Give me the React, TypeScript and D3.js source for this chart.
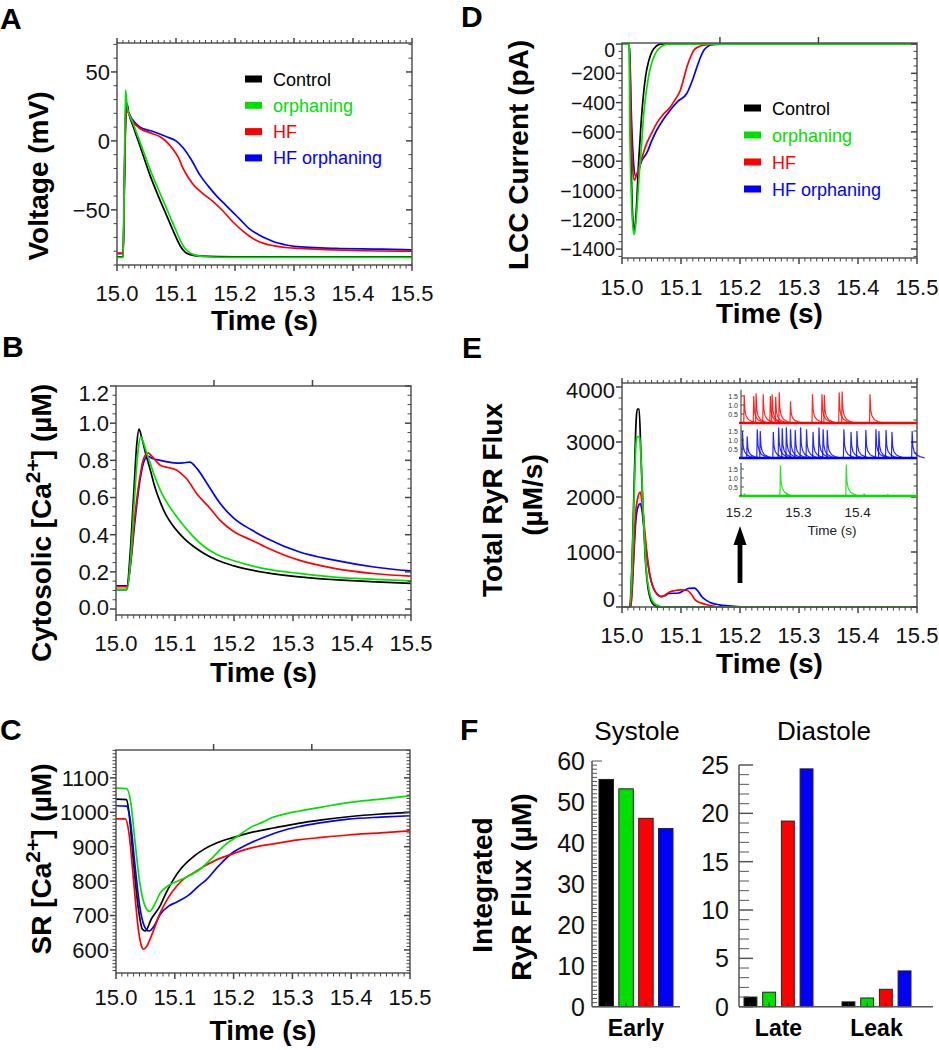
import * as React from "react";
import * as d3 from "d3";

type Pt = [number, number];

const FONT = '"Liberation Sans", Arial, Helvetica, sans-serif';
const BLACK = "#000000";
const GREEN = "#00e000";
const RED = "#ff0000";
const BLUE = "#0000ff";

const seriesNames = ["Control", "orphaning", "HF", "HF orphaning"];
const seriesColors = [BLACK, GREEN, RED, BLUE];
const timeTicks = [15.0, 15.1, 15.2, 15.3, 15.4, 15.5];
const oddTopTicks = [15.166, 15.333];

// A: voltage (mV)
const voltageControl: Pt[] = [[15.0,-84],[15.0105,-84],[15.0125,-30],[15.015,22],[15.017,27],[15.02,20],[15.027,11],[15.04,-5],[15.056,-25],[15.07,-40],[15.084,-54],[15.096,-66],[15.107,-76],[15.115,-80.5],[15.124,-82.5],[15.14,-83.5],[15.2,-84],[15.5,-84]];
const voltageOrphaning: Pt[] = [[15.0,-84.5],[15.0105,-84.5],[15.0125,-20],[15.0145,37],[15.0175,24],[15.027,13],[15.04,-2],[15.06,-25],[15.075,-40],[15.09,-55],[15.1,-65],[15.112,-76],[15.12,-80],[15.13,-82.5],[15.15,-84],[15.2,-84.5],[15.5,-84.5]];
const voltageHF: Pt[] = [[15.0,-81.5],[15.0105,-81.5],[15.0125,-30],[15.015,18],[15.017,22],[15.025,15],[15.039,9],[15.055,6],[15.073,3],[15.085,-1],[15.095,-6],[15.104,-12],[15.112,-20],[15.12,-26],[15.13,-32],[15.145,-38],[15.163,-44],[15.18,-51],[15.197,-59],[15.215,-66],[15.231,-71],[15.25,-74.5],[15.265,-76],[15.29,-77.5],[15.31,-78],[15.4,-79.5],[15.5,-80]];
const voltageHFOrphaning: Pt[] = [[15.0,-81.5],[15.0105,-81.5],[15.0125,-30],[15.015,18],[15.017,22],[15.025,16],[15.039,10],[15.06,7],[15.084,3],[15.1,0],[15.112,-5],[15.125,-13],[15.141,-25],[15.155,-33],[15.169,-40],[15.183,-46],[15.197,-52],[15.211,-58],[15.225,-64],[15.24,-68],[15.254,-71],[15.268,-73.5],[15.282,-75],[15.3,-76.5],[15.37,-78],[15.45,-78.5],[15.5,-79]];

// B: cytosolic calcium (uM)
const cytoControl: Pt[] = [[15.0,0.105],[15.018,0.105],[15.024,0.3],[15.03,0.62],[15.035,0.88],[15.039,0.968],[15.043,0.93],[15.05,0.84],[15.058,0.75],[15.066,0.655],[15.075,0.575],[15.085,0.505],[15.095,0.455],[15.105,0.415],[15.117,0.375],[15.131,0.338],[15.15,0.298],[15.17,0.265],[15.2,0.232],[15.256,0.195],[15.31,0.173],[15.37,0.158],[15.44,0.146],[15.5,0.138]];
const cytoOrphaning: Pt[] = [[15.0,0.105],[15.019,0.105],[15.025,0.28],[15.031,0.58],[15.037,0.84],[15.042,0.926],[15.046,0.9],[15.052,0.84],[15.058,0.785],[15.066,0.71],[15.075,0.64],[15.089,0.56],[15.103,0.496],[15.117,0.44],[15.131,0.39],[15.15,0.335],[15.17,0.295],[15.2,0.26],[15.256,0.215],[15.31,0.192],[15.37,0.172],[15.44,0.16],[15.5,0.152]];
const cytoHF: Pt[] = [[15.0,0.12],[15.019,0.12],[15.025,0.26],[15.032,0.5],[15.04,0.7],[15.046,0.8],[15.054,0.84],[15.06,0.825],[15.075,0.774],[15.09,0.76],[15.103,0.747],[15.112,0.725],[15.12,0.7],[15.137,0.62],[15.16,0.54],[15.176,0.478],[15.2,0.416],[15.23,0.37],[15.256,0.33],[15.31,0.263],[15.37,0.219],[15.44,0.19],[15.5,0.177]];
const cytoHFOrphaning: Pt[] = [[15.0,0.125],[15.019,0.125],[15.025,0.25],[15.032,0.47],[15.04,0.68],[15.047,0.79],[15.054,0.822],[15.062,0.81],[15.075,0.8],[15.09,0.79],[15.103,0.785],[15.115,0.787],[15.125,0.79],[15.137,0.757],[15.154,0.677],[15.176,0.57],[15.2,0.488],[15.23,0.425],[15.256,0.38],[15.31,0.308],[15.37,0.263],[15.44,0.225],[15.5,0.205]];

// C: SR calcium (uM)
const srControl: Pt[] = [[15.0,1038],[15.018,1037],[15.022,1000],[15.03,850],[15.038,720],[15.045,660],[15.05,655],[15.06,690],[15.075,728],[15.085,765],[15.097,803],[15.11,835],[15.131,870],[15.15,893],[15.17,910],[15.2,927],[15.227,940],[15.27,955],[15.31,968],[15.35,978],[15.395,987],[15.45,995],[15.5,1000]];
const srOrphaning: Pt[] = [[15.0,1070],[15.018,1069],[15.025,1030],[15.032,920],[15.04,800],[15.05,725],[15.057,712],[15.065,730],[15.075,765],[15.09,788],[15.102,798],[15.12,812],[15.142,833],[15.165,870],[15.186,906],[15.205,928],[15.227,954],[15.25,972],[15.265,984],[15.29,996],[15.31,1003],[15.35,1015],[15.395,1028],[15.45,1038],[15.5,1048]];
const srHF: Pt[] = [[15.0,981],[15.016,981],[15.022,940],[15.03,800],[15.038,660],[15.044,608],[15.047,602],[15.052,610],[15.06,640],[15.075,707],[15.09,755],[15.102,783],[15.115,806],[15.131,823],[15.15,843],[15.17,861],[15.2,880],[15.227,895],[15.27,909],[15.31,920],[15.35,927],[15.395,934],[15.45,940],[15.5,946]];
const srHFOrphaning: Pt[] = [[15.0,1019],[15.018,1018],[15.024,980],[15.032,850],[15.04,730],[15.048,670],[15.056,655],[15.065,670],[15.075,703],[15.09,728],[15.102,738],[15.124,760],[15.14,785],[15.153,803],[15.175,845],[15.197,881],[15.225,908],[15.254,929],[15.28,945],[15.31,958],[15.35,970],[15.395,980],[15.45,986],[15.5,990]];

// D: LCC current (pA)
const lccControl: Pt[] = [[15.0,0],[15.0125,0],[15.0135,-300],[15.016,-900],[15.019,-1230],[15.021,-1270],[15.024,-1150],[15.028,-820],[15.032,-560],[15.036,-360],[15.04,-220],[15.045,-120],[15.051,-50],[15.058,-15],[15.065,0],[15.5,0]];
const lccOrphaning: Pt[] = [[15.0,0],[15.0122,0],[15.013,-500],[15.016,-1050],[15.019,-1270],[15.021,-1300],[15.025,-1150],[15.029,-900],[15.033,-700],[15.037,-470],[15.041,-330],[15.046,-200],[15.052,-110],[15.058,-55],[15.066,-20],[15.076,0],[15.5,0]];
const lccHF: Pt[] = [[15.0,0],[15.0125,0],[15.015,-500],[15.018,-850],[15.021,-930],[15.025,-890],[15.031,-813],[15.042,-677],[15.05,-610],[15.059,-540],[15.07,-480],[15.082,-430],[15.09,-380],[15.099,-314],[15.105,-230],[15.11,-157],[15.116,-90],[15.122,-41],[15.13,-18],[15.139,-7],[15.155,-2],[15.167,0],[15.5,0]];
const lccHFOrphaning: Pt[] = [[15.0,0],[15.0125,0],[15.016,-500],[15.02,-830],[15.023,-900],[15.027,-880],[15.033,-800],[15.042,-744],[15.05,-665],[15.059,-587],[15.07,-515],[15.082,-450],[15.095,-390],[15.11,-336],[15.12,-240],[15.127,-157],[15.133,-90],[15.139,-41],[15.145,-18],[15.15,-7],[15.16,-2],[15.173,0],[15.5,0]];

// E: total RyR flux (uM/s)
const fluxControl: Pt[] = [[15.0,0],[15.013,0],[15.017,800],[15.021,2400],[15.024,3400],[15.026,3600],[15.029,3600],[15.032,2800],[15.036,1700],[15.04,800],[15.044,350],[15.049,120],[15.055,30],[15.062,0],[15.5,0]];
const fluxOrphaning: Pt[] = [[15.0,0],[15.013,0],[15.017,700],[15.021,2200],[15.024,3000],[15.026,3100],[15.03,3080],[15.033,2500],[15.037,1500],[15.041,700],[15.046,300],[15.052,100],[15.06,30],[15.07,0],[15.5,0]];
const fluxHF: Pt[] = [[15.0,0],[15.015,0],[15.019,800],[15.023,1700],[15.026,1950],[15.031,2090],[15.034,1900],[15.038,1450],[15.042,1000],[15.047,600],[15.053,350],[15.06,230],[15.066,190],[15.072,210],[15.08,270],[15.09,300],[15.1,310],[15.11,305],[15.117,240],[15.124,130],[15.132,80],[15.141,50],[15.15,25],[15.16,5],[15.18,0],[15.5,0]];
const fluxHFOrphaning: Pt[] = [[15.0,0],[15.015,0],[15.019,700],[15.023,1500],[15.026,1780],[15.031,1880],[15.034,1750],[15.038,1350],[15.042,950],[15.047,580],[15.053,350],[15.06,230],[15.066,190],[15.072,205],[15.08,245],[15.096,255],[15.105,300],[15.113,340],[15.123,345],[15.13,270],[15.135,190],[15.143,120],[15.152,70],[15.165,40],[15.175,25],[15.2,5],[15.22,0],[15.5,0]];

// E inset: spark events (time, height)
const insetTicks = [15.2, 15.3, 15.4];
const insetYTicks = [0.5, 1.0, 1.5];
const hfSparkTimes = [15.208,15.224,15.228,15.24,15.252,15.255,15.261,15.267,15.286,15.323,15.339,15.343,15.368,15.373,15.42];
const hfSparkHeights = [1.55,1.5,1.65,1.6,1.5,1.6,1.45,1.7,1.2,1.6,1.6,1.55,1.7,1.75,1.6];
const hfOrphSparkTimes = [15.205,15.213,15.23,15.235,15.257,15.266,15.272,15.279,15.286,15.294,15.303,15.313,15.324,15.334,15.341,15.348,15.376,15.388,15.398,15.413,15.43,15.435,15.447,15.457,15.491];
const hfOrphSparkHeights = [1.5,1.2,1.6,1.5,1.45,1.7,1.65,1.7,1.6,1.55,1.7,1.6,1.45,1.7,1.6,1.55,1.6,1.45,1.5,1.55,1.6,1.5,1.55,1.45,1.5];
const orphSparkTimes = [15.208,15.269,15.28,15.38,15.41,15.45];
const orphSparkHeights = [0.1,1.7,0.12,1.75,0.1,0.08];
// shape of one spark trace: [dt (s), fraction of height]
const sparkShape: Pt[] = [[0,0],[0.0008,1],[0.002,0.45],[0.004,0.25],[0.008,0.12],[0.014,0.05],[0.022,0]];

// F: integrated RyR flux (uM)
const systoleCategories = ["Early"];
const diastoleCategories = ["Late", "Leak"];
const systoleEarly = [55.5, 53.2, 46.0, 43.5];
const diastoleLate = [1.0, 1.5, 19.2, 24.6];
const diastoleLeak = [0.5, 0.9, 1.8, 3.7];
const systoleTicks = [0, 10, 20, 30, 40, 50, 60];
const diastoleTicks = [0, 5, 10, 15, 20, 25];

const minus = (s: string) => s.replace("-", "\u2212");

interface PanelProps {
  id: string;
  left: number; right: number; top: number; bottom: number;
  yDomain: [number, number];
  yTicks: number[];
  yMinor: number;
  fmt: (v: number) => string;
  series: Pt[][];
  xLabelBase: number;
  xTitleBase: number;
  denseTop: boolean;
  yLabelSize?: number;
}

function TracePanel(p: PanelProps) {
  const x = d3.scaleLinear().domain([15, 15.5]).range([p.left, p.right]);
  const y = d3.scaleLinear().domain(p.yDomain).range([p.bottom, p.top]);
  const line = d3.line<Pt>().x((d) => x(d[0])).y((d) => y(d[1])).curve(d3.curveMonotoneX);
  const xMinor = d3.range(0, 51).map((i) => 15 + i * 0.01);
  const [d0, d1] = p.yDomain;
  const yMinor = d3.range(Math.ceil(d0 / p.yMinor) * p.yMinor, d1 + 1e-9, p.yMinor);
  const tc = "#444";
  const order = [0, 3, 2, 1];
  const ls = p.yLabelSize || 22;
  return (
    <g>
      <defs>
        <clipPath id={p.id}>
          <rect x={p.left} y={p.top - 1} width={p.right - p.left} height={p.bottom - p.top + 2} />
        </clipPath>
      </defs>
      <g clipPath={`url(#${p.id})`}>
        {order.map((i) => (
          <path key={i} d={line(p.series[i]) || ""} fill="none" stroke={seriesColors[i]} strokeWidth={1.7} />
        ))}
      </g>
      <rect x={p.left} y={p.top} width={p.right - p.left} height={p.bottom - p.top} fill="none" stroke="#555" strokeWidth={1.5} />
      {xMinor.map((t, i) => {
        const major = i % 10 === 0;
        const X = x(t);
        return (
          <g key={"xt" + i} stroke={tc} strokeWidth={major ? 1.5 : 1}>
            <line x1={X} x2={X} y1={p.bottom} y2={p.bottom + (major ? 6 : 3.5)} />
            {p.denseTop && <line x1={X} x2={X} y1={p.top} y2={p.top - (major ? 5 : 3)} />}
          </g>
        );
      })}
      {!p.denseTop &&
        oddTopTicks.map((t) => (
          <line key={"ot" + t} x1={x(t)} x2={x(t)} y1={p.top} y2={p.top - 6} stroke={tc} strokeWidth={1.5} />
        ))}
      {yMinor.map((v, i) => {
        const major = p.yTicks.some((t) => Math.abs(t - v) < 1e-6);
        const Y = y(v);
        return (
          <g key={"ym" + i} stroke={tc} strokeWidth={major ? 1.5 : 1}>
            <line x1={p.left} x2={p.left - (major ? 6 : 3.5)} y1={Y} y2={Y} />
            <line x1={p.right} x2={p.right - (major ? 6 : 3.5)} y1={Y} y2={Y} />
          </g>
        );
      })}
      {p.yTicks.map((v) => {
        const Y = Math.min(Math.max(y(v), p.top + 7), p.bottom - 8);
        return (
          <text key={"yl" + v} x={p.left - 7} y={Y + ls * 0.36} textAnchor="end" fontSize={ls} fill="#111">
            {p.fmt(v)}
          </text>
        );
      })}
      {timeTicks.map((t) => (
        <text key={"xl" + t} x={x(t)} y={p.xLabelBase} textAnchor="middle" fontSize={22} fill="#111">
          {t.toFixed(1)}
        </text>
      ))}
      <text x={(p.left + p.right) / 2} y={p.xTitleBase} textAnchor="middle" fontSize={28} fontWeight="bold">
        Time (s)
      </text>
    </g>
  );
}

function Legend({ x, y0, step }: { x: number; y0: number; step: number }) {
  return (
    <g>
      {seriesNames.map((n, i) => (
        <g key={n}>
          <rect x={x} y={y0 + i * step - 3.5} width={17} height={7} fill={seriesColors[i]} />
          <text x={x + 28} y={y0 + i * step + 6.5} fontSize={18} fill={seriesColors[i]}>
            {n}
          </text>
        </g>
      ))}
    </g>
  );
}

function YTitle({ x, y, children, size = 28 }: { x: number; y: number; children: React.ReactNode; size?: number }) {
  return (
    <text transform={`translate(${x},${y}) rotate(-90)`} textAnchor="middle" fontSize={size} fontWeight="bold">
      {children}
    </text>
  );
}

function Inset() {
  const x = d3.scaleLinear().domain([15.2, 15.5]).range([739, 917]);
  const strips = [
    { color: RED, base: 423, times: hfSparkTimes, heights: hfSparkHeights },
    { color: BLUE, base: 458, times: hfOrphSparkTimes, heights: hfOrphSparkHeights },
    { color: GREEN, base: 496, times: orphSparkTimes, heights: orphSparkHeights },
  ];
  const axisX = 741;
  return (
    <g>
      {strips.map((s, k) => {
        const y = d3.scaleLinear().domain([0, 2]).range([s.base, s.base - 36]);
        const line = d3.line<Pt>().x((d) => x(d[0])).y((d) => y(d[1]));
        return (
          <g key={k}>
            <line x1={x(15.2)} x2={x(15.5)} y1={y(0)} y2={y(0)} stroke={s.color} strokeWidth={2.5} />
            {s.times.map((t, i) => (
              <path
                key={i}
                d={line(sparkShape.map(([dt, f]) => [t + dt, f * s.heights[i]] as Pt)) || ""}
                fill="none"
                stroke={s.color}
                strokeWidth={1.2}
                strokeOpacity={0.85}
              />
            ))}
            <line x1={axisX} x2={axisX} y1={y(0)} y2={y(1.85)} stroke="#333" strokeWidth={1} />
            {insetYTicks.map((v) => (
              <g key={v}>
                <line x1={axisX} x2={axisX + 3} y1={y(v)} y2={y(v)} stroke="#333" strokeWidth={0.8} />
                <text x={axisX - 3} y={y(v) + 2.5} textAnchor="end" fontSize={7} fill="#333">
                  {v.toFixed(1)}
                </text>
              </g>
            ))}
          </g>
        );
      })}
      {insetTicks.map((t) => (
        <text key={t} x={x(t)} y={517} textAnchor="middle" fontSize={13.5} fill="#222">
          {t.toFixed(1)}
        </text>
      ))}
      <text x={(x(15.2) + x(15.5)) / 2 + 4} y={535} textAnchor="middle" fontSize={13.5} fill="#222">
        Time (s)
      </text>
    </g>
  );
}

function Arrow({ xPos }: { xPos: number }) {
  return (
    <g fill="#000">
      <rect x={xPos - 2.4} y={543} width={4.8} height={40} />
      <path d={`M${xPos},526 L${xPos + 6.5},545 L${xPos - 6.5},545 Z`} />
    </g>
  );
}

function BarPanel() {
  const base = 1006.7;
  const ySys = d3.scaleLinear().domain([0, 60]).range([base, 761]);
  const yDia = d3.scaleLinear().domain([0, 25]).range([base, 765]);
  const xSys = d3.scaleBand<string>().domain(systoleCategories).range([599, 673]).padding(0);
  const xDia = d3.scaleBand<string>().domain(diastoleCategories).range([744, 911]).paddingInner(0.296).paddingOuter(0);
  const inSys = d3.scaleBand<number>().domain([0, 1, 2, 3]).range([0, xSys.bandwidth()]).paddingInner(0.27).paddingOuter(0);
  const inDia = d3.scaleBand<number>().domain([0, 1, 2, 3]).range([0, xDia.bandwidth()]).paddingInner(0.31).paddingOuter(0);
  const sysAxis = 592;
  const diaAxis = 739;
  const groups = [
    { cat: "Early", vals: systoleEarly, xs: xSys, inner: inSys, y: ySys },
    { cat: "Late", vals: diastoleLate, xs: xDia, inner: inDia, y: yDia },
    { cat: "Leak", vals: diastoleLeak, xs: xDia, inner: inDia, y: yDia },
  ];
  const tc = "#555";
  return (
    <g>
      {groups.map((g) =>
        g.vals.map((v, i) => {
          const bx = (g.xs(g.cat) || 0) + (g.inner(i) || 0);
          const w = g.inner.bandwidth();
          return (
            <g key={g.cat + i}>
              <rect x={bx} y={g.y(v)} width={w} height={base - g.y(v)} fill={seriesColors[i]} stroke="#222" strokeWidth={1} />
              <line x1={bx + w / 2} x2={bx + w / 2} y1={base} y2={base - 4} stroke="#222" strokeWidth={1} />
            </g>
          );
        })
      )}
      <line x1={sysAxis} x2={sysAxis} y1={ySys(60)} y2={base} stroke={tc} strokeWidth={1.5} />
      <line x1={sysAxis} x2={680} y1={base} y2={base} stroke={tc} strokeWidth={1.5} />
      {d3.range(0, 61).map((v) => (
        <line key={"s" + v} x1={sysAxis} x2={sysAxis + (v === 60 ? 10 : 5)} y1={ySys(v)} y2={ySys(v)} stroke={tc} strokeWidth={1} />
      ))}
      {systoleTicks.map((v) => (
        <text key={"sl" + v} x={585} y={ySys(v) + 9} textAnchor="end" fontSize={25} fill="#111">
          {v}
        </text>
      ))}
      <line x1={diaAxis} x2={diaAxis} y1={yDia(25)} y2={base} stroke={tc} strokeWidth={1.5} />
      <line x1={diaAxis} x2={933} y1={base} y2={base} stroke={tc} strokeWidth={1.5} />
      {d3.range(0, 26).map((v) => (
        <line key={"d" + v} x1={diaAxis} x2={diaAxis + (v % 5 === 0 ? 14 : 10)} y1={yDia(v)} y2={yDia(v)} stroke={tc} strokeWidth={v % 5 === 0 ? 1.5 : 1} />
      ))}
      {diastoleTicks.map((v) => (
        <text key={"dl" + v} x={729} y={yDia(v) + 9} textAnchor="end" fontSize={25} fill="#111">
          {v}
        </text>
      ))}
      {groups.map((g) => (
        <text key={"c" + g.cat} x={(g.xs(g.cat) || 0) + g.xs.bandwidth() / 2} y={1036} textAnchor="middle" fontSize={23} fontWeight="bold">
          {g.cat}
        </text>
      ))}
      <text x={637} y={740} textAnchor="middle" fontSize={26}>Systole</text>
      <text x={824} y={740} textAnchor="middle" fontSize={26}>Diastole</text>
    </g>
  );
}

export default function App() {
  const fmtInt = (v: number) => minus(String(v));
  const fmt1 = (v: number) => minus(v.toFixed(1));
  const xE = d3.scaleLinear().domain([15, 15.5]).range([622, 917]);
  return (
    <svg width={939} height={1050} style={{ position: "absolute", left: 0, top: 0 }} fontFamily={FONT}>
      <rect width={939} height={1050} fill="#fff" />
      <g fontSize={30} fontWeight="bold">
        <text x={0} y={29}>A</text>
        <text x={2} y={357}>B</text>
        <text x={0} y={740}>C</text>
        <text x={461} y={27}>D</text>
        <text x={462} y={358}>E</text>
        <text x={460} y={740}>F</text>
      </g>

      <TracePanel id="clipA" left={117} right={412} top={43} bottom={265} yDomain={[-90, 71]} yTicks={[-50, 0, 50]} yMinor={10}
        fmt={fmtInt} series={[voltageControl, voltageOrphaning, voltageHF, voltageHFOrphaning]} xLabelBase={301} xTitleBase={330} denseTop={true} />
      <YTitle x={48} y={176}>Voltage (mV)</YTitle>
      <Legend x={245} y0={79} step={26.3} />

      <TracePanel id="clipB" left={116} right={411} top={386} bottom={615} yDomain={[-0.032, 1.2]} yTicks={[0, 0.2, 0.4, 0.6, 0.8, 1.0, 1.2]} yMinor={0.05}
        fmt={fmt1} series={[cytoControl, cytoOrphaning, cytoHF, cytoHFOrphaning]} xLabelBase={651} xTitleBase={682} denseTop={false} />
      <YTitle x={51} y={523}>
        Cytosolic [Ca<tspan dy={-11} fontSize={21}>2+</tspan><tspan dy={11}>] (µM)</tspan>
      </YTitle>

      <TracePanel id="clipC" left={116} right={410} top={750} bottom={973} yDomain={[533, 1181]} yTicks={[600, 700, 800, 900, 1000, 1100]} yMinor={10}
        fmt={fmtInt} series={[srControl, srOrphaning, srHF, srHFOrphaning]} xLabelBase={1005} xTitleBase={1040} denseTop={false} />
      <YTitle x={51} y={859}>
        SR [Ca<tspan dy={-11} fontSize={21}>2+</tspan><tspan dy={11}>] (µM)</tspan>
      </YTitle>

      <TracePanel id="clipD" left={622} right={917} top={43} bottom={258} yDomain={[-1461, 7]} yTicks={[-1400, -1200, -1000, -800, -600, -400, -200, 0]} yMinor={50}
        fmt={fmtInt} series={[lccControl, lccOrphaning, lccHF, lccHFOrphaning]} xLabelBase={295} xTitleBase={323} denseTop={false} yLabelSize={19.5} />
      <YTitle x={528} y={155}>LCC Current (pA)</YTitle>
      <Legend x={744} y0={108} step={27} />

      <TracePanel id="clipE" left={622} right={917} top={383} bottom={607} yDomain={[0, 4073]} yTicks={[0, 1000, 2000, 3000, 4000]} yMinor={200}
        fmt={fmtInt} series={[fluxControl, fluxOrphaning, fluxHF, fluxHFOrphaning]} xLabelBase={643} xTitleBase={673} denseTop={true} />
      <YTitle x={502} y={500}>Total RyR Flux</YTitle>
      <YTitle x={542} y={495}>(µM/s)</YTitle>
      <Inset />
      <Arrow xPos={xE(15.2)} />

      <BarPanel />
      <YTitle x={492} y={885}>Integrated</YTitle>
      <YTitle x={531} y={887}>RyR Flux (µM)</YTitle>
    </svg>
  );
}
